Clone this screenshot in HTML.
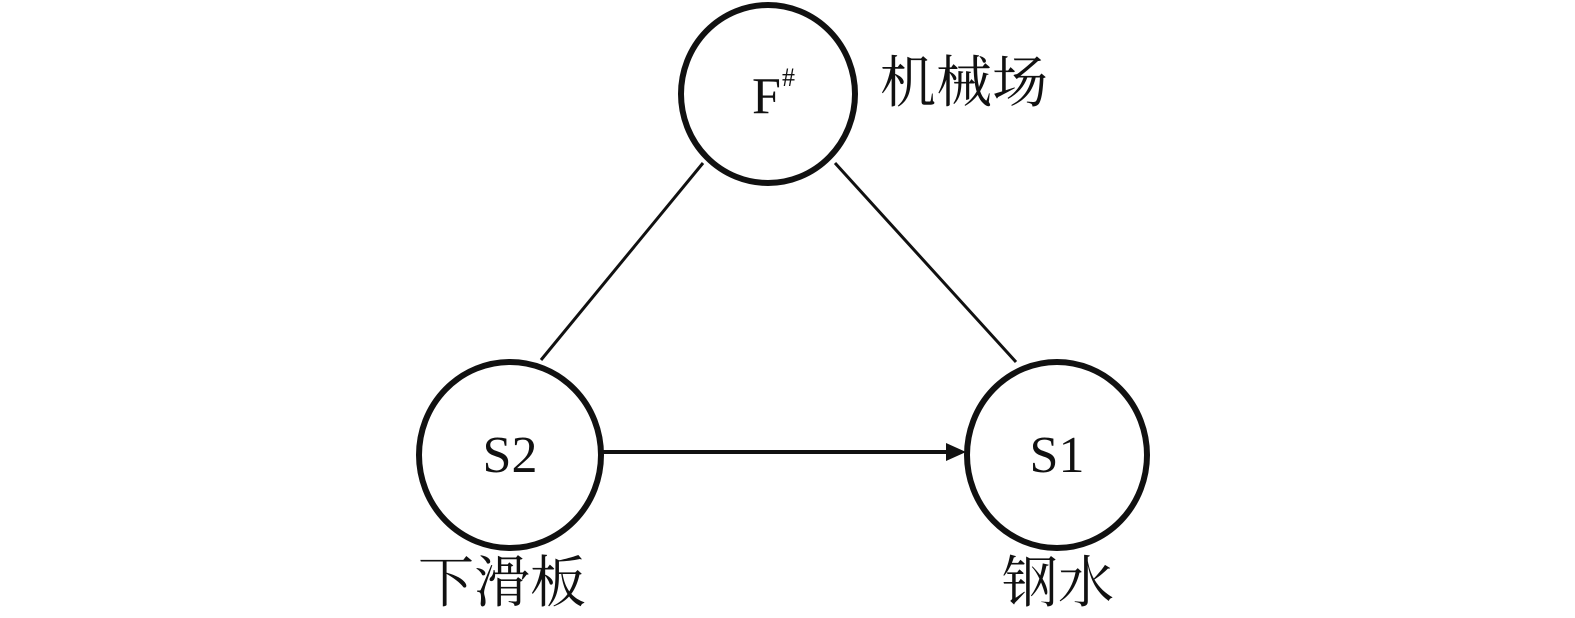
<!DOCTYPE html>
<html><head><meta charset="utf-8"><style>
html,body{margin:0;padding:0;background:#fff;}
svg{display:block;}
</style></head><body>
<svg width="1575" height="618" viewBox="0 0 1575 618" xmlns="http://www.w3.org/2000/svg">
<g fill="none" stroke="#111" stroke-width="6">
<ellipse cx="768" cy="94" rx="87" ry="89"/>
<ellipse cx="510" cy="455" rx="91" ry="93"/>
<ellipse cx="1057" cy="455" rx="90" ry="93"/>
</g>
<g stroke="#111" stroke-width="3">
<line x1="703" y1="163" x2="541" y2="360"/>
<line x1="835" y1="163" x2="1016" y2="362"/>
<line x1="603" y1="452" x2="950" y2="452" stroke-width="4"/>
</g>
<polygon points="966,452 946,443 946,461" fill="#111"/>
<g font-family="'Liberation Serif','Noto Serif CJK SC',serif" fill="#111">
<text x="752" y="113" font-size="52">F</text>
<text x="782" y="86" font-size="26">#</text>
<text x="510" y="472" font-size="52" text-anchor="middle">S2</text>
<text x="1057" y="472" font-size="52" text-anchor="middle">S1</text>
<text x="880" y="102" font-size="56">机械场</text>
<text x="418" y="602" font-size="56">下滑板</text>
<text x="1002" y="602" font-size="56">钢水</text>
</g>
</svg>
</body></html>
